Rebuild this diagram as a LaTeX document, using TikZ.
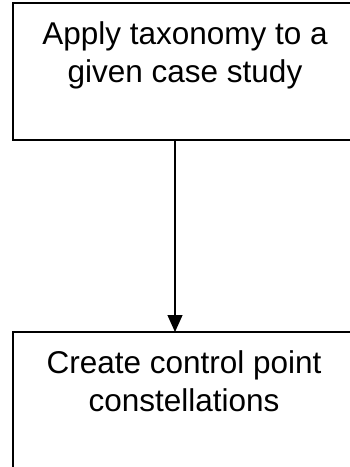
\documentclass[tikz,border=0pt]{standalone}
\usepackage{fontspec}
\setmainfont{Liberation Sans}
\usepackage{tikz}
\usetikzlibrary{arrows.meta, calc}

\tikzset{
  stepbox/.style={draw, line width=1.5pt, minimum width=344pt, minimum height=137pt, inner sep=0, outer sep=0, anchor=north west},
  steptext/.style={font=\fontsize{31.5}{38}\selectfont, align=center, inner sep=0, outer sep=0, anchor=north}
}

\begin{document}
\begin{tikzpicture}[x=1pt, y=1pt]
  \useasboundingbox (0,0) rectangle (350,-467);

  \node [stepbox] (apply) at (13,-3) {};
  \node [steptext] (applytxt) at (185,-21.5) {Apply taxonomy to a\\given case study};

  \node [stepbox] (create) at (13,-332) {};
  \node [steptext] (createtxt) at (184,-351) {Create control point\\constellations};

  \draw [line width=1.2pt, -{Triangle[length=17pt, width=15pt]}] ([xshift=162pt]apply.south west) -- ([xshift=162pt]create.north west);
\end{tikzpicture}
\end{document}
